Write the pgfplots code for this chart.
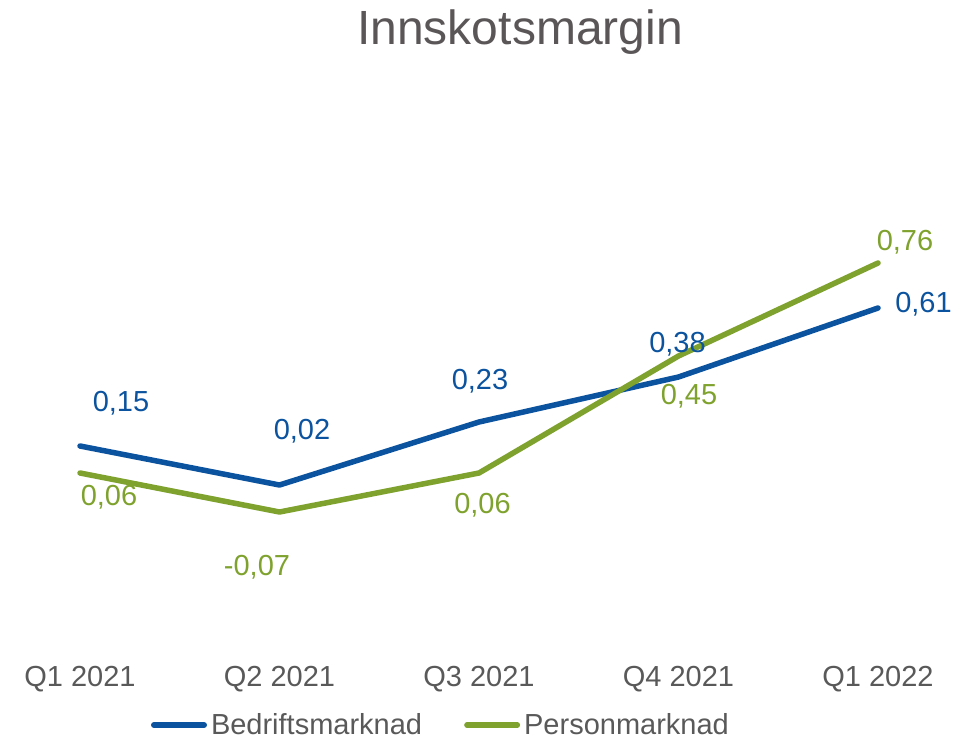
\documentclass[border=0pt]{standalone}
\usepackage{fontspec}
\setmainfont{Liberation Sans}
\usepackage{pgfplots}
\usepackage{pgfplotstable}
\pgfplotsset{compat=1.18}
\definecolor{cblue}{HTML}{0B539E}
\definecolor{cgreen}{HTML}{7EA22D}
\definecolor{cgray}{HTML}{595959}
\definecolor{ctitle}{HTML}{5A5557}
\newcommand{\lf}{\fontsize{14.5}{17}\selectfont}

\pgfplotstableread{
x y dx dy lab
0 0.15 20.5 17.3 0,15
1 0.02 11.25 22.8 0,02
2 0.23 0.5 16.3 0,23
3 0.38 -0.5 12.3 0,38
4 0.61 22.75 -2.2 0,61
}\bedrift

\pgfplotstableread{
x y dx dy lab
0 0.06 14.5 -16.2 0,06
1 -0.07 -11.25 -31.7 -0,07
2 0.06 1.75 -20.2 0,06
3 0.45 5.25 -24.2 0,45
4 0.76 13.5 6.3 0,76
}\person

\begin{document}
\begin{tikzpicture}
\path[use as bounding box] (0,0) rectangle (484pt,369pt);
\begin{axis}[
  at={(40pt,93.5pt)}, anchor=south west,
  scale only axis, width=399pt, height=165pt,
  xmin=0, xmax=4, ymin=-0.2, ymax=0.9,
  clip=false,
  axis line style={draw=none},
  major tick style={draw=none},
  ytick=\empty,
  xtick={0,1,2,3,4},
  xticklabels={Q1 2021,Q2 2021,Q3 2021,Q4 2021,Q1 2022},
  xticklabel style={font=\lf, text=cgray, anchor=base, yshift=-67.5pt},
  title={Innskotsmargin},
  title style={font=\fontsize{24}{28}\selectfont, text=ctitle, anchor=base,
    at={(axis description cs:0.5,1)}, xshift=20.5pt, yshift=82.5pt},
  legend columns=2,
  legend style={draw=none, fill=none, inner sep=0pt, outer sep=0pt,
    column sep=0pt,
    at={(axis description cs:0.08897,-0.5273)}, anchor=west,
    nodes={inner sep=0pt, font=\lf, text=cgray}},
  legend image code/.code={
    \path[draw=none, fill=none] (0pt,-3pt) rectangle (28pt,3pt);
    \draw[line width=2.75pt, line cap=round, fill=none] (1.4pt,0pt) -- (26.6pt,0pt);
  },
]
\addplot[cblue, line width=2.75pt, line join=round, line cap=round,
  nodes near coords, point meta=explicit symbolic,
  visualization depends on={\thisrow{dx}\as\dx},
  visualization depends on={\thisrow{dy}\as\dy},
  every node near coord/.append style={font=\lf, text=cblue, anchor=base,
    xshift=\dx pt, yshift=\dy pt, inner sep=0pt}]
  table[x=x, y=y, meta=lab]{\bedrift};
\addlegendentry{\rule{2pt}{0pt}Bedriftsmarknad\rule{21pt}{0pt}}
\addplot[cgreen, line width=2.75pt, line join=round, line cap=round,
  nodes near coords, point meta=explicit symbolic,
  visualization depends on={\thisrow{dx}\as\dx},
  visualization depends on={\thisrow{dy}\as\dy},
  every node near coord/.append style={font=\lf, text=cgreen, anchor=base,
    xshift=\dx pt, yshift=\dy pt, inner sep=0pt}]
  table[x=x, y=y, meta=lab]{\person};
\addlegendentry{\rule{2pt}{0pt}Personmarknad}
\end{axis}
\end{tikzpicture}
\end{document}
